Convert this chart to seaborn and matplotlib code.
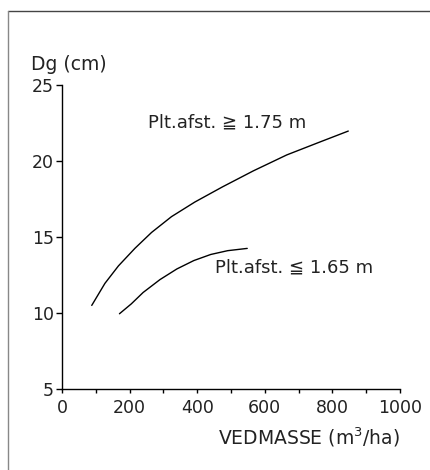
import matplotlib
matplotlib.use("Agg")
import matplotlib.pyplot as plt
from matplotlib.lines import Line2D
import seaborn as sns
import pandas as pd

# Data
upper_x = [88, 127, 167, 216, 265, 324, 393, 475, 566, 665, 763, 847]
upper_y = [10.5, 11.95, 13.1, 14.26, 15.3, 16.34, 17.3, 18.3, 19.35, 20.4, 21.25, 21.97]
lower_x = [170, 205, 240, 290, 340, 390, 440, 490, 548]
lower_y = [9.95, 10.6, 11.35, 12.2, 12.9, 13.45, 13.85, 14.1, 14.25]
upper_label = "Plt.afst. \u2267 1.75 m"
lower_label = "Plt.afst. \u2266 1.65 m"
x_ticks = [0, 200, 400, 600, 800, 1000]
y_ticks = [5, 10, 15, 20, 25]

df = pd.concat([
    pd.DataFrame({"x": upper_x, "y": upper_y, "g": upper_label}),
    pd.DataFrame({"x": lower_x, "y": lower_y, "g": lower_label}),
])

sns.set_style("ticks")
plt.rcParams['font.family'] = ['DejaVu Sans']

fig = plt.figure(figsize=(4.3, 4.7), dpi=100)
ax = fig.add_axes([62/430, 1-389/470, (400-62)/430, (389-85)/470])

sns.lineplot(data=df, x="x", y="y", units="g", estimator=None, color="black",
             linewidth=1.0, ax=ax, sort=True)

ax.set_xlim(0, 1000)
ax.set_ylim(5, 25)
ax.set_xticks(x_ticks)
ax.set_xticks([100, 300, 500, 700, 900], minor=True)
ax.set_yticks(y_ticks)
ax.tick_params(axis="both", which="both", direction="out", length=4, width=1,
               color="black", labelsize=12.5, pad=2, labelcolor="#222222")
ax.tick_params(axis="x", which="both", length=3, pad=4)
for s in ["top", "right"]:
    ax.spines[s].set_visible(False)
for s in ["left", "bottom"]:
    ax.spines[s].set_linewidth(1.0)
    ax.spines[s].set_color("black")

ax.set_xlabel("VEDMASSE (m$^3$/ha)", fontsize=13.5, loc="right", labelpad=6,
              color="#222222")
ax.set_ylabel("")

ax.text(254, 22.55, upper_label, fontsize=13, va="center", ha="left", color="#222222")
ax.text(453, 13.0, lower_label, fontsize=13, va="center", ha="left", color="#222222")

fig.text(31/430, 1-65/470, "Dg (cm)", fontsize=13.5, va="center", ha="left",
         color="#222222")

fig.add_artist(Line2D([8/430, 1.0], [1-11/470, 1-11/470], color="#444444", lw=1.0))
fig.add_artist(Line2D([8/430, 8/430], [1-11/470, 0.0], color="#888888", lw=1.0))

fig.savefig("out.png", dpi=100)
